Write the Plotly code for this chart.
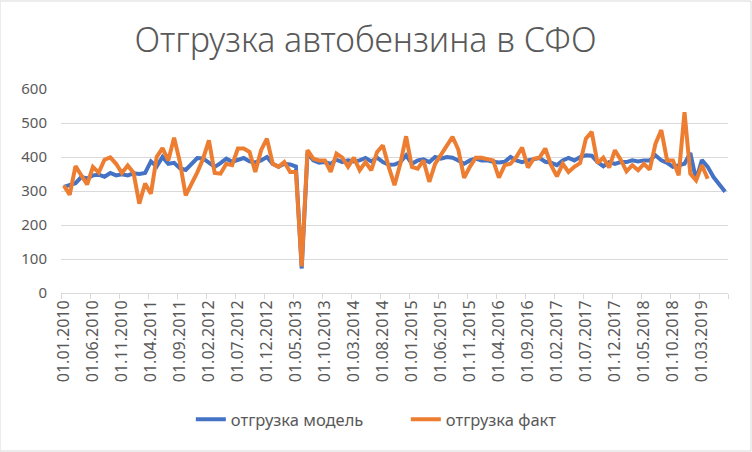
import plotly.graph_objects as go
import pandas as pd

title_text = "Отгрузка автобензина в СФО"
series_names = ["отгрузка модель", "отгрузка факт"]

# monthly categories 01.01.2010 .. 01.07.2019
months = pd.date_range("2010-01-01", "2019-07-01", freq="MS").strftime("%d.%m.%Y").tolist()

model = [312, 316, 323, 341, 337, 346, 348, 342, 353, 346,
         349, 346, 352, 350, 353, 387, 372, 400, 380, 383,
         367, 362, 380, 397, 396, 382, 371, 382, 395, 386,
         390, 397, 387, 384, 390, 400, 380, 371, 380, 378,
         372, 72, 412, 390, 383, 385, 380, 392, 385, 390,
         387, 390, 397, 387, 398, 385, 377, 378, 385, 405,
         380, 390, 393, 385, 400, 395, 400, 398, 390, 380,
         390, 395, 390, 390, 386, 384, 386, 400, 390, 385,
         390, 395, 397, 386, 383, 376, 390, 397, 390, 400,
         405, 404, 385, 373, 385, 380, 385, 385, 390, 387,
         390, 390, 405, 390, 383, 371, 376, 380, 412, 333,
         391, 371, 341, 318, 298]

fact = [316, 289, 373, 345, 319, 371, 354, 392, 399, 380,
        353, 375, 354, 263, 322, 292, 400, 426, 390, 457,
        385, 287, 320, 355, 395, 449, 353, 351, 380, 376,
        425, 425, 415, 356, 420, 454, 380, 371, 385, 356,
        356, 78, 420, 395, 390, 390, 356, 410, 398, 371,
        398, 361, 385, 361, 415, 434, 371, 317, 380, 461,
        371, 366, 390, 327, 380, 405, 431, 459, 422, 339,
        371, 398, 398, 393, 390, 339, 376, 380, 400, 428,
        369, 395, 398, 425, 376, 343, 380, 356, 371, 382,
        454, 474, 382, 398, 369, 420, 392, 358, 376, 361,
        380, 363, 439, 479, 390, 390, 346, 532, 351, 331,
        376, 336]

y_ticks = [0, 100, 200, 300, 400, 500, 600]
label_step = 5

idx_model = list(range(len(model)))
idx_fact = list(range(len(fact)))
tick_idx = list(range(0, len(months), label_step))
tick_text = [months[i] for i in tick_idx]
boundaries = [i - 0.5 for i in range(0, len(months) + 1, label_step)] + [len(months) - 0.5]

grey = "#595959"
grid = "#d9d9d9"
font_main = "Noto Sans, Open Sans, sans-serif"

fig = go.Figure()
fig.add_trace(go.Scatter(x=idx_model, y=model, mode="lines", name=series_names[0],
                         line=dict(color="#4472C4", width=4, shape="linear"),
                         hoverinfo="skip"))
fig.add_trace(go.Scatter(x=idx_fact, y=fact, mode="lines", name=series_names[1],
                         line=dict(color="#ED7D31", width=4, shape="linear"),
                         hoverinfo="skip"))

fig.update_layout(
    width=752, height=452,
    margin=dict(l=61, r=24, t=89, b=159),
    paper_bgcolor="white", plot_bgcolor="white",
    title=dict(text=title_text, x=0.486, xanchor="center", y=0.912, yanchor="middle",
               font=dict(family=font_main, size=34, color=grey, weight=300)),
    font=dict(family=font_main, color=grey, size=15),
    showlegend=True,
    legend=dict(orientation="h", x=0.517, xanchor="center", y=-0.62, yanchor="middle",
                font=dict(size=16.5, color=grey), itemwidth=30, tracegroupgap=0,
                entrywidth=170, entrywidthmode="pixels",
                bgcolor="rgba(0,0,0,0)"),
    xaxis=dict(range=[-0.5, len(months) - 0.5], tickmode="array", tickvals=tick_idx,
               ticktext=tick_text, tickangle=-90, ticks="", showgrid=False,
               showline=True, linecolor=grid, linewidth=1, zeroline=False,
               tickfont=dict(size=16, color=grey, family=font_main),
               minor=dict(tickmode="array", tickvals=boundaries, ticks="outside",
                          ticklen=5, tickcolor=grid, tickwidth=1, showgrid=False)),
    yaxis=dict(range=[0, 600], tickmode="array", tickvals=y_ticks, showgrid=True,
               gridcolor=grid, gridwidth=1, zeroline=False, showline=False, ticks="",
               tickfont=dict(size=15, color=grey, family=font_main),
               ticklabelstandoff=13),
)

# chart border (Excel chart area outline)
fig.add_shape(type="rect", xref="paper", yref="paper",
              x0=-61 / 667, x1=1 + 23 / 667, y0=-158 / 204, y1=1 + 88 / 204,
              line=dict(color="#d9d9d9", width=1), fillcolor="rgba(0,0,0,0)", layer="below")

fig.write_html("out.html")
